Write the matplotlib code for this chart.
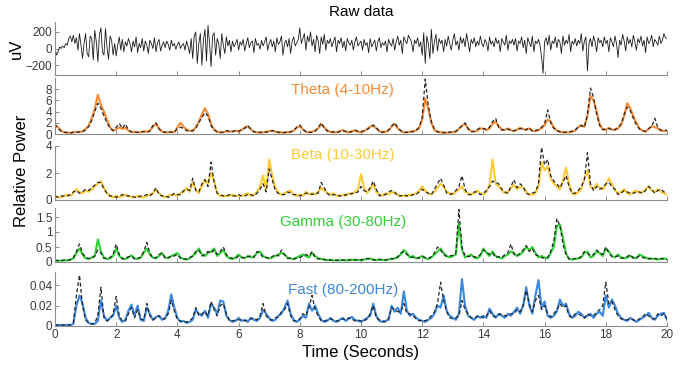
import numpy as np
import matplotlib
matplotlib.use('Agg')
import matplotlib.pyplot as plt

plt.rcParams['font.family'] = ['Liberation Sans', 'DejaVu Sans']

## Data
# raw trace, one value per 0.05 s
raw_uv = [
    0, -80, -40, 20, 0, 30, 10, 60, 40, 120, 150, 80, 160, 60, 130, -20, 180, 40, -120, 60,
    180, -60, -100, 150, 120, -140, 220, 80, -160, 160, 250, -40, -80, 240, 20, -130, 150, 100, -80, 60,
    -90, 40, 140, -20, 110, -40, 80, 30, 120, 60, -40, 90, 20, 140, -50, 60, 10, 120, -30, 90,
    40, -60, 100, 60, 0, 130, -40, 70, 110, -30, 40, 80, 10, 90, 50, -20, 100, 30, 60, -10,
    50, 80, 0, 40, 60, -20, 90, 20, -60, 120, -120, 150, 200, -180, 60, 180, -200, 100, 230, -150,
    280, 60, -220, 150, 190, -80, 120, 60, -120, 180, 40, -60, 140, 30, 100, -40, 90, 20, 60, 110,
    -20, 80, 40, 110, -30, 60, 130, 10, 70, 90, -50, 120, 40, 60, -10, 100, 30, 80, 140, -20,
    60, 110, 20, 90, -40, 130, 50, 80, 150, -80, 60, 100, 20, 120, -60, 90, 140, 30, 70, 110,
    250, 60, 120, 180, -20, 150, 80, 200, 30, 110, -40, 160, 90, -60, 140, 50, 170, -20, 100, 60,
    120, 20, 80, 140, -40, 100, 60, 130, 10, 90, -30, 120, 70, 40, 100, -20, 80, 140, 30, 60,
    90, -20, 110, 40, 70, -50, 120, 20, 60, 100, -30, 80, 130, 10, 70, 40, 90, -40, 110, 60,
    30, 120, -20, 80, 150, 40, 100, -60, 140, 90, 60, 160, 120, 80, -40, 100, 60, 130, 20, 80,
    -80, 190, -180, 150, 60, -120, 230, -60, 80, 170, -30, 120, 60, 100, -40, 110, 30, 150, 60, -20,
    100, 180, 40, 90, -20, 140, 60, 120, 20, 180, 70, -40, 110, 60, 130, 20, 90, 40, 150, 60,
    20, 110, 70, -30, 140, 50, 90, 20, 130, 60, 100, -40, 120, 80, 40, 160, -20, 90, 60, 110,
    40, 120, -30, 90, 60, 140, 10, 100, -60, 130, 70, 20, 150, -40, 90, 60, 110, 40, -100, -300,
    80, 130, 40, 160, -20, 90, 60, 140, 10, 110, 80, -60, 150, 40, 100, 60, 170, -40, 90, 50,
    120, 30, 100, 60, 180, -30, 90, 140, -270, 60, 120, 20, 150, 80, -40, 130, 70, 100, 20, 140,
    60, 100, -40, 130, 80, 20, 150, 60, -110, 100, 40, 170, 90, -30, 140, 60, 110, 20, 160, 80,
    -20, 120, 70, 150, 30, 100, -50, 140, 60, 90, 160, 20, 110, 80, 40, 150, 60, 100, 180, 130,
    120]

# band power, one value per 0.1 s (colored = band, black = dashed)
theta = [
    1.5, 1.2, 0.6, 0.3, 0.3, 0.2, 0.3, 0.4, 0.3, 0.5,
    0.9, 1.5, 2.8, 4.5, 7.0, 5.2, 4.0, 2.5, 1.2, 0.6,
    0.8, 1.2, 0.9, 1.1, 0.6, 0.3, 0.4, 0.3, 0.3, 0.5,
    0.4, 0.6, 1.3, 1.8, 1.0, 0.4, 0.3, 0.3, 0.4, 0.3,
    1.2, 2.0, 1.3, 0.8, 0.6, 0.5, 1.2, 2.2, 3.5, 4.6,
    3.6, 1.8, 0.8, 0.4, 0.3, 0.3, 0.5, 0.4, 0.5, 0.6,
    0.4, 0.7, 1.2, 1.4, 0.8, 0.4, 0.3, 0.2, 0.3, 0.4,
    0.5, 0.6, 0.4, 0.3, 0.3, 0.2, 0.4, 0.3, 0.6, 1.1,
    1.4, 0.8, 0.4, 0.3, 0.4, 0.6, 1.0, 1.7, 1.2, 0.6,
    0.4, 0.3, 0.3, 0.5, 0.7, 0.4, 0.3, 0.5, 0.6, 0.4,
    0.3, 0.5, 0.9, 1.3, 1.5, 1.0, 0.5, 0.3, 0.4, 0.6,
    1.3, 1.8, 1.0, 0.5, 0.3, 0.3, 0.4, 0.5, 0.6, 1.0,
    2.5, 6.3, 4.5, 2.0, 0.7, 0.4, 0.3, 0.3, 0.2, 0.3,
    0.3, 0.4, 0.9, 1.5, 1.8, 1.0, 0.5, 0.4, 0.6, 1.0,
    0.9, 0.7, 1.0, 1.8, 2.2, 1.4, 0.8, 0.7, 1.0, 0.7,
    0.5, 0.8, 1.1, 0.9, 0.7, 1.0, 0.6, 0.5, 0.7, 1.0,
    1.6, 2.6, 2.2, 1.2, 0.6, 0.4, 0.3, 0.3, 0.3, 0.4,
    0.6, 1.2, 1.6, 1.3, 3.2, 6.8, 6.0, 4.0, 1.8, 0.8,
    0.7, 1.1, 0.8, 0.7, 1.0, 1.6, 3.2, 5.5, 4.6, 3.2,
    2.0, 1.0, 0.6, 0.4, 0.9, 1.4, 1.2, 1.0, 0.6, 0.5,
    0.6]
theta_k = [
    1.8, 1.0, 0.5, 0.3, 0.2, 0.2, 0.3, 0.3, 0.4, 0.4,
    0.7, 1.3, 2.4, 4.0, 5.5, 4.6, 3.2, 2.0, 1.0, 0.6,
    1.2, 1.9, 1.0, 1.8, 0.7, 0.4, 0.3, 0.3, 0.4, 0.4,
    0.3, 0.5, 1.5, 2.0, 0.9, 0.4, 0.3, 0.4, 0.3, 0.3,
    1.0, 1.2, 1.0, 0.6, 0.5, 0.6, 1.0, 2.0, 3.0, 3.8,
    3.2, 1.5, 0.7, 0.4, 0.3, 0.3, 0.6, 0.5, 0.4, 0.6,
    0.5, 0.8, 1.0, 1.5, 0.9, 0.4, 0.3, 0.3, 0.4, 0.3,
    0.4, 0.6, 0.5, 0.3, 0.2, 0.3, 0.3, 0.4, 0.7, 1.2,
    1.6, 0.9, 0.4, 0.3, 0.3, 0.5, 1.1, 2.0, 1.1, 0.5,
    0.3, 0.4, 0.3, 0.4, 0.6, 0.5, 0.3, 0.4, 0.7, 0.5,
    0.4, 0.6, 0.8, 1.2, 1.6, 1.1, 0.5, 0.3, 0.5, 0.7,
    1.4, 2.0, 1.2, 0.6, 0.3, 0.3, 0.4, 0.4, 0.7, 1.2,
    3.0, 9.8, 5.0, 2.2, 0.8, 0.4, 0.3, 0.2, 0.3, 0.3,
    0.4, 0.5, 1.0, 1.4, 2.0, 0.9, 0.4, 0.5, 0.8, 1.1,
    1.0, 0.8, 1.2, 2.2, 2.8, 1.2, 0.7, 0.8, 0.9, 0.6,
    0.6, 0.7, 1.0, 0.8, 0.8, 1.1, 0.5, 0.6, 0.8, 1.2,
    1.8, 4.3, 2.0, 1.0, 0.6, 0.4, 0.3, 0.3, 0.4, 0.5,
    0.7, 1.3, 1.5, 1.2, 3.5, 8.2, 6.5, 3.6, 1.5, 0.8,
    0.9, 1.0, 0.7, 0.8, 1.2, 1.8, 3.5, 4.8, 4.2, 2.8,
    1.6, 0.9, 0.6, 0.5, 1.0, 1.3, 2.8, 1.1, 0.7, 0.6,
    0.7]

beta = [
    0.3, 0.2, 0.2, 0.3, 0.4, 0.3, 0.5, 0.8, 0.6, 0.5,
    0.7, 0.6, 0.8, 1.0, 1.2, 1.4, 0.9, 0.5, 0.3, 0.2,
    0.3, 0.2, 0.3, 0.4, 0.3, 0.2, 0.2, 0.3, 0.2, 0.2,
    0.3, 0.4, 0.5, 0.8, 0.5, 0.3, 0.2, 0.3, 0.4, 0.4,
    0.3, 0.5, 0.6, 0.9, 0.6, 1.3, 0.8, 0.5, 1.0, 1.5,
    1.2, 2.0, 1.4, 0.5, 0.3, 0.3, 0.3, 0.3, 0.4, 0.3,
    0.3, 0.3, 0.4, 0.5, 0.3, 0.4, 0.6, 1.0, 1.8, 0.8,
    3.0, 1.8, 0.9, 0.5, 0.4, 0.5, 0.6, 0.7, 0.4, 0.3,
    0.4, 0.3, 0.6, 0.4, 0.5, 0.4, 0.6, 0.9, 0.7, 0.5,
    0.4, 0.5, 0.3, 0.3, 0.4, 0.3, 0.5, 0.4, 0.6, 0.8,
    1.9, 0.9, 0.5, 0.8, 1.2, 0.6, 0.4, 0.3, 0.5, 0.4,
    0.6, 0.5, 0.4, 0.3, 0.3, 0.3, 0.4, 0.4, 0.5, 0.7,
    1.0, 0.7, 0.5, 0.4, 0.6, 0.9, 1.2, 1.0, 0.6, 0.5,
    0.4, 0.6, 0.8, 1.0, 0.6, 0.5, 0.4, 0.5, 0.7, 0.5,
    0.4, 0.6, 1.1, 3.0, 1.2, 1.0, 0.7, 0.5, 0.6, 0.9,
    1.1, 0.8, 1.0, 0.9, 0.6, 0.4, 0.4, 0.5, 1.0, 2.8,
    2.2, 2.5, 1.6, 1.2, 1.0, 0.8, 1.5, 2.4, 1.2, 0.5,
    0.4, 0.6, 0.8, 1.6, 2.2, 1.0, 0.8, 1.2, 0.9, 0.8,
    1.1, 1.6, 1.2, 0.7, 0.5, 0.6, 0.8, 0.5, 0.4, 0.6,
    0.7, 0.5, 0.6, 0.8, 1.0, 0.7, 0.6, 0.8, 0.6, 0.5,
    0.4]
beta_k = [
    0.3, 0.2, 0.3, 0.3, 0.3, 0.4, 0.6, 0.7, 0.5, 0.6,
    0.8, 0.7, 0.9, 1.1, 1.3, 1.3, 0.8, 0.5, 0.3, 0.3,
    0.2, 0.3, 0.4, 0.3, 0.3, 0.3, 0.2, 0.2, 0.3, 0.3,
    0.4, 0.3, 0.5, 0.9, 0.4, 0.3, 0.3, 0.2, 0.3, 0.5,
    0.4, 0.4, 0.7, 0.8, 0.7, 1.6, 0.7, 0.6, 1.2, 1.5,
    1.0, 2.8, 1.3, 0.5, 0.4, 0.3, 0.3, 0.4, 0.3, 0.3,
    0.4, 0.3, 0.3, 0.4, 0.4, 0.3, 0.5, 0.8, 1.2, 0.6,
    2.3, 1.5, 0.7, 0.5, 0.4, 0.4, 0.6, 0.5, 0.4, 0.4,
    0.3, 0.4, 0.5, 0.5, 0.4, 0.5, 0.5, 1.3, 0.9, 0.5,
    0.3, 0.4, 0.4, 0.3, 0.3, 0.4, 0.4, 0.5, 0.5, 0.6,
    1.0, 0.7, 0.6, 0.9, 1.4, 0.8, 0.3, 0.4, 0.4, 0.6,
    0.7, 0.6, 0.3, 0.3, 0.4, 0.3, 0.3, 0.4, 0.4, 0.6,
    0.8, 0.6, 0.5, 0.4, 0.8, 1.2, 1.6, 1.1, 0.5, 0.4,
    0.5, 0.7, 1.0, 1.8, 0.8, 0.4, 0.4, 0.6, 0.6, 0.4,
    0.5, 0.7, 1.0, 1.4, 1.3, 1.2, 0.8, 0.6, 0.5, 1.0,
    1.5, 0.9, 1.2, 1.0, 0.5, 0.4, 0.5, 0.6, 1.2, 3.9,
    2.6, 3.0, 1.8, 1.4, 1.2, 0.9, 1.3, 1.8, 1.0, 0.5,
    0.5, 0.7, 1.0, 1.5, 3.5, 1.2, 0.7, 1.0, 0.8, 0.9,
    1.2, 1.3, 1.0, 0.8, 0.4, 0.5, 0.7, 0.6, 0.5, 0.5,
    0.6, 0.6, 0.5, 0.7, 1.0, 0.8, 0.5, 0.7, 0.8, 0.6,
    0.5]

gamma = [
    0.05, 0.04, 0.05, 0.06, 0.05, 0.08, 0.12, 0.3, 0.45, 0.25,
    0.12, 0.1, 0.15, 0.2, 0.75, 0.35, 0.15, 0.1, 0.12, 0.2,
    0.45, 0.2, 0.12, 0.1, 0.15, 0.22, 0.12, 0.1, 0.15, 0.3,
    0.45, 0.25, 0.15, 0.12, 0.2, 0.3, 0.15, 0.12, 0.2, 0.25,
    0.3, 0.15, 0.1, 0.08, 0.12, 0.2, 0.3, 0.45, 0.25, 0.2,
    0.3, 0.35, 0.45, 0.2, 0.3, 0.4, 0.2, 0.12, 0.1, 0.15,
    0.25, 0.15, 0.12, 0.2, 0.15, 0.18, 0.3, 0.35, 0.2, 0.15,
    0.12, 0.15, 0.2, 0.25, 0.3, 0.25, 0.15, 0.12, 0.1, 0.15,
    0.2, 0.25, 0.2, 0.15, 0.3, 0.2, 0.12, 0.1, 0.08, 0.06,
    0.08, 0.05, 0.06, 0.05, 0.07, 0.05, 0.06, 0.08, 0.06, 0.07,
    0.06, 0.08, 0.1, 0.12, 0.08, 0.06, 0.08, 0.07, 0.06, 0.08,
    0.1, 0.12, 0.15, 0.25, 0.4, 0.3, 0.15, 0.2, 0.12, 0.15,
    0.2, 0.12, 0.1, 0.15, 0.25, 0.35, 0.45, 0.3, 0.2, 0.15,
    0.2, 0.25, 1.3, 0.4, 0.15, 0.2, 0.25, 0.15, 0.12, 0.2,
    0.45, 0.3, 0.2, 0.35, 0.2, 0.15, 0.12, 0.2, 0.25, 0.35,
    0.3, 0.2, 0.25, 0.35, 0.5, 0.4, 0.5, 0.3, 0.15, 0.2,
    0.15, 0.12, 0.3, 0.5, 1.2, 1.25, 0.8, 0.3, 0.1, 0.08,
    0.1, 0.12, 0.15, 0.3, 0.35, 0.15, 0.2, 0.35, 0.3, 0.2,
    0.45, 0.35, 0.2, 0.15, 0.25, 0.15, 0.12, 0.15, 0.2, 0.15,
    0.12, 0.25, 0.2, 0.15, 0.1, 0.12, 0.1, 0.08, 0.1, 0.12,
    0.1]
gamma_k = [
    0.05, 0.05, 0.04, 0.06, 0.06, 0.07, 0.15, 0.35, 0.6, 0.3,
    0.15, 0.12, 0.12, 0.2, 0.4, 0.3, 0.12, 0.12, 0.15, 0.25,
    0.6, 0.25, 0.1, 0.12, 0.18, 0.2, 0.1, 0.12, 0.15, 0.35,
    0.65, 0.3, 0.12, 0.15, 0.25, 0.3, 0.12, 0.15, 0.2, 0.2,
    0.25, 0.12, 0.1, 0.1, 0.15, 0.2, 0.35, 0.4, 0.2, 0.25,
    0.35, 0.3, 0.4, 0.25, 0.35, 0.5, 0.25, 0.15, 0.12, 0.12,
    0.2, 0.15, 0.15, 0.18, 0.2, 0.15, 0.35, 0.3, 0.15, 0.15,
    0.12, 0.18, 0.25, 0.2, 0.4, 0.25, 0.12, 0.12, 0.1, 0.12,
    0.15, 0.2, 0.25, 0.2, 0.35, 0.15, 0.1, 0.12, 0.08, 0.07,
    0.06, 0.06, 0.05, 0.07, 0.06, 0.06, 0.07, 0.06, 0.08, 0.06,
    0.07, 0.09, 0.12, 0.1, 0.07, 0.07, 0.09, 0.06, 0.07, 0.09,
    0.12, 0.1, 0.18, 0.3, 0.35, 0.25, 0.18, 0.15, 0.15, 0.12,
    0.18, 0.15, 0.12, 0.18, 0.3, 0.5, 0.4, 0.25, 0.18, 0.2,
    0.22, 0.3, 1.75, 0.5, 0.2, 0.18, 0.2, 0.18, 0.15, 0.25,
    0.4, 0.35, 0.25, 0.3, 0.15, 0.18, 0.15, 0.25, 0.3, 0.6,
    0.25, 0.2, 0.3, 0.4, 0.55, 0.35, 0.45, 0.25, 0.2, 0.15,
    0.12, 0.15, 0.35, 0.7, 1.45, 1.2, 0.6, 0.25, 0.1, 0.1,
    0.12, 0.1, 0.2, 0.35, 0.3, 0.2, 0.25, 0.4, 0.3, 0.25,
    0.5, 0.3, 0.18, 0.18, 0.2, 0.12, 0.15, 0.18, 0.25, 0.12,
    0.15, 0.2, 0.15, 0.12, 0.12, 0.1, 0.12, 0.1, 0.12, 0.1,
    0.08]

fast = [
    0.001, 0.001, 0.001, 0.001, 0.001, 0.001, 0.002, 0.020, 0.030, 0.022,
    0.008, 0.003, 0.002, 0.002, 0.005, 0.025, 0.010, 0.005, 0.008, 0.010,
    0.020, 0.008, 0.004, 0.006, 0.015, 0.021, 0.010, 0.020, 0.006, 0.005,
    0.018, 0.012, 0.006, 0.009, 0.010, 0.006, 0.008, 0.015, 0.031, 0.018,
    0.008, 0.004, 0.005, 0.003, 0.004, 0.006, 0.016, 0.012, 0.010, 0.015,
    0.008, 0.022, 0.018, 0.012, 0.025, 0.024, 0.010, 0.006, 0.004, 0.005,
    0.008, 0.005, 0.006, 0.004, 0.008, 0.006, 0.005, 0.008, 0.016, 0.012,
    0.008, 0.005, 0.006, 0.010, 0.012, 0.018, 0.025, 0.012, 0.006, 0.004,
    0.006, 0.010, 0.008, 0.022, 0.015, 0.020, 0.012, 0.006, 0.004, 0.005,
    0.008, 0.005, 0.004, 0.006, 0.008, 0.005, 0.007, 0.009, 0.006, 0.005,
    0.004, 0.006, 0.008, 0.010, 0.022, 0.010, 0.005, 0.004, 0.005, 0.006,
    0.020, 0.014, 0.018, 0.012, 0.034, 0.015, 0.010, 0.012, 0.008, 0.006,
    0.005, 0.004, 0.006, 0.008, 0.012, 0.020, 0.018, 0.030, 0.015, 0.010,
    0.008, 0.006, 0.012, 0.046, 0.020, 0.010, 0.008, 0.006, 0.010, 0.008,
    0.010, 0.008, 0.017, 0.012, 0.008, 0.012, 0.010, 0.008, 0.012, 0.010,
    0.014, 0.018, 0.012, 0.020, 0.038, 0.020, 0.012, 0.030, 0.045, 0.018,
    0.024, 0.010, 0.008, 0.010, 0.014, 0.026, 0.020, 0.022, 0.012, 0.008,
    0.010, 0.014, 0.012, 0.008, 0.010, 0.012, 0.008, 0.012, 0.014, 0.010,
    0.030, 0.018, 0.026, 0.020, 0.012, 0.008, 0.006, 0.005, 0.008, 0.006,
    0.004, 0.006, 0.008, 0.010, 0.013, 0.008, 0.006, 0.010, 0.012, 0.013,
    0.006]
fast_k = [
    0.001, 0.001, 0.001, 0.001, 0.001, 0.001, 0.003, 0.030, 0.050, 0.020,
    0.006, 0.003, 0.002, 0.003, 0.010, 0.038, 0.008, 0.005, 0.007, 0.012,
    0.029, 0.010, 0.005, 0.005, 0.012, 0.018, 0.008, 0.016, 0.007, 0.006,
    0.022, 0.010, 0.006, 0.008, 0.010, 0.007, 0.007, 0.012, 0.025, 0.015,
    0.006, 0.005, 0.004, 0.004, 0.005, 0.008, 0.018, 0.010, 0.012, 0.014,
    0.010, 0.024, 0.016, 0.010, 0.020, 0.022, 0.012, 0.005, 0.005, 0.006,
    0.006, 0.006, 0.005, 0.006, 0.007, 0.008, 0.006, 0.010, 0.022, 0.010,
    0.006, 0.006, 0.008, 0.009, 0.014, 0.016, 0.022, 0.010, 0.005, 0.005,
    0.007, 0.012, 0.010, 0.018, 0.030, 0.016, 0.010, 0.005, 0.005, 0.006,
    0.007, 0.006, 0.005, 0.005, 0.007, 0.006, 0.008, 0.007, 0.005, 0.006,
    0.005, 0.005, 0.007, 0.012, 0.020, 0.008, 0.006, 0.005, 0.004, 0.007,
    0.018, 0.016, 0.014, 0.014, 0.022, 0.012, 0.012, 0.010, 0.007, 0.005,
    0.006, 0.005, 0.007, 0.010, 0.014, 0.022, 0.043, 0.025, 0.014, 0.008,
    0.007, 0.008, 0.010, 0.025, 0.016, 0.012, 0.008, 0.008, 0.009, 0.010,
    0.008, 0.010, 0.015, 0.010, 0.009, 0.011, 0.012, 0.010, 0.010, 0.012,
    0.012, 0.016, 0.014, 0.020, 0.035, 0.022, 0.014, 0.025, 0.030, 0.016,
    0.020, 0.012, 0.009, 0.012, 0.016, 0.022, 0.018, 0.020, 0.010, 0.008,
    0.012, 0.012, 0.010, 0.008, 0.012, 0.010, 0.010, 0.014, 0.016, 0.020,
    0.043, 0.022, 0.024, 0.016, 0.010, 0.007, 0.006, 0.006, 0.007, 0.006,
    0.005, 0.007, 0.009, 0.012, 0.010, 0.007, 0.007, 0.012, 0.010, 0.012,
    0.007]

band_names = ['Theta (4-10Hz)', 'Beta (10-30Hz)', 'Gamma (30-80Hz)', 'Fast (80-200Hz)']
band_colors = ['#f78a33', '#fdc935', '#2fd033', '#3b87e0']
band_ylims = [10, 4, 1.8, 0.053]
band_yticks = [[0, 2, 4, 6, 8], [0, 2, 4], [0, 0.5, 1, 1.5], [0, 0.02, 0.04]]
band_yticklabels = [['0', '2', '4', '6', '8'], ['0', '2', '4'],
                    ['0', '0.5', '1', '1.5'], ['0', '0.02', '0.04']]
band_data = [(theta, theta_k), (beta, beta_k), (gamma, gamma_k), (fast, fast_k)]
label_y = [0.79, 0.83, 0.74, 0.66]

t_raw = np.arange(len(raw_uv)) * 0.05
t_pow = np.arange(len(theta)) * 0.1

## Figure
fig = plt.figure(figsize=(6.82, 3.71), dpi=100)
left, width = 55 / 682, 612 / 682
# (top, bottom) in pixels for each panel
rows = [(22, 75), (78, 134), (146, 200), (208, 262), (272, 326)]

def style(ax):
	for s in ['top', 'right']:
		ax.spines[s].set_visible(False)
	for s in ['left', 'bottom']:
		ax.spines[s].set_color('#8c8c8c')
		ax.spines[s].set_linewidth(0.8)
	ax.tick_params(direction='in', length=3, width=0.7, color='#8c8c8c',
	               labelsize=8.5, labelcolor='#3a3a3a', pad=2)
	ax.set_xlim(0, 20)
	ax.set_xticks(range(0, 21, 2))

axes = []
for top, bot in rows:
	ax = fig.add_axes([left, 1 - bot / 371, width, (bot - top) / 371])
	style(ax)
	axes.append(ax)

# raw
ax = axes[0]
ax.plot(t_raw, raw_uv, color='#1a1a1a', linewidth=0.6)
ax.set_ylim(-320, 320)
ax.set_yticks([-200, 0, 200])
ax.set_xticklabels([])
ax.set_ylabel('uV', fontsize=12, labelpad=1)
ax.set_title('Raw data', fontsize=11, pad=4)

# bands
for i in range(4):
	ax = axes[i + 1]
	col, blk = band_data[i]
	ax.plot(t_pow, col, color=band_colors[i], linewidth=1.5)
	ax.plot(t_pow, blk, color='#222222', linewidth=0.9, linestyle=(0, (3, 2)))
	ax.set_ylim(0, band_ylims[i])
	ax.set_yticks(band_yticks[i])
	ax.set_yticklabels(band_yticklabels[i])
	ax.text(0.47, label_y[i], band_names[i], transform=ax.transAxes,
	        ha='center', va='center', fontsize=11, color=band_colors[i])
	if i < 3:
		ax.set_xticklabels([])

axes[-1].set_xticklabels([str(v) for v in range(0, 21, 2)])
axes[-1].set_xlabel('Time (Seconds)', fontsize=12, labelpad=3)
fig.text(0.031, 0.54, 'Relative Power', rotation=90, ha='center', va='center', fontsize=12)

fig.savefig('out.png', dpi=100)
